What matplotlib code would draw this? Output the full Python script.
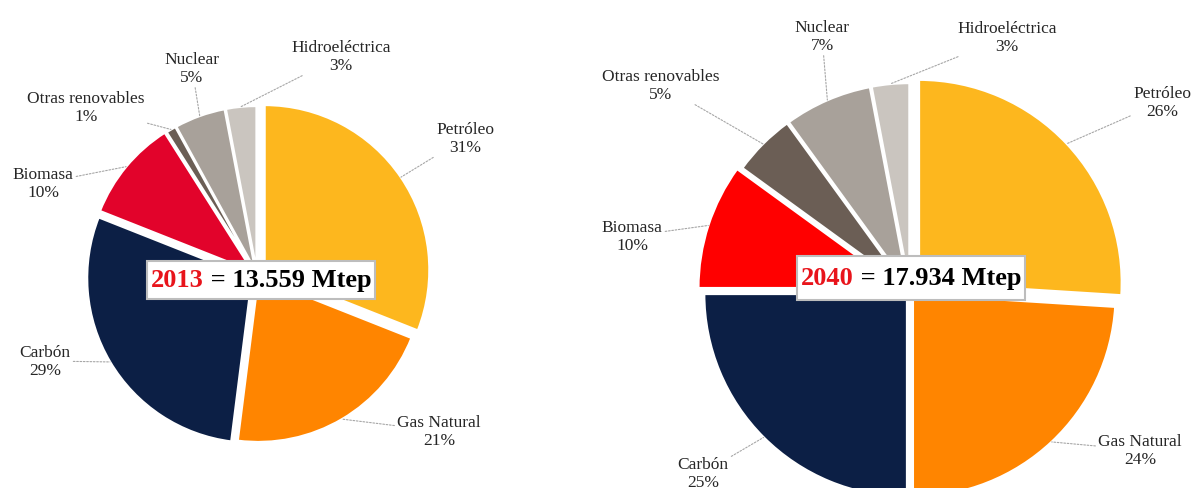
import matplotlib
matplotlib.use("Agg")
import matplotlib.pyplot as plt
import numpy as np
from matplotlib.patches import Rectangle

# ---------------- data ----------------
categories = ["Petróleo", "Gas Natural", "Carbón", "Biomasa",
              "Otras renovables", "Nuclear", "Hidroeléctrica"]
share_2013 = [31, 21, 29, 10, 1, 5, 3]
share_2040 = [26, 24, 25, 10, 5, 7, 3]
years = ["2013", "2040"]
totals = ["13.559", "17.934"]

colors_2013 = ["#FDB71E", "#FF8500", "#0C1F45", "#E2032B", "#6B5E55", "#A8A19A", "#CAC5BF"]
colors_2040 = ["#FDB71E", "#FF8500", "#0C1F45", "#FF0000", "#6B5E55", "#A8A19A", "#CAC5BF"]

# ---------------- layout (pixel coords, y downwards) ----------------
W, H = 1193, 489
layouts = [
    dict(center=(257, 276), radius=165,
         explode=[0.055, 0.015, 0.035, 0.03, 0.025, 0.025, 0.025],
         labels=[(465, 139), (439, 432), (45, 362), (43, 184), (86, 108), (192, 69), (341, 57)],
         box=(147, 262, 375, 300)),
    dict(center=(910, 292), radius=203,
         explode=[0.06, 0.02, 0.02, 0.045, 0.025, 0.025, 0.025],
         labels=[(1162, 103), (1140, 451), (703, 474), (632, 237), (661, 86), (822, 37), (1007, 38)],
         box=(797, 257, 1025, 301)),
]

plt.rcParams["font.family"] = ["Liberation Serif", "DejaVu Serif"]

fig = plt.figure(figsize=(W / 100, H / 100), dpi=100)
ax = fig.add_axes([0, 0, 1, 1])

series = [share_2013, share_2040]
palettes = [colors_2013, colors_2040]

for vals, cols, lay, yr, tot in zip(series, palettes, layouts, years, totals):
    cx, cy = lay["center"]
    R = lay["radius"]
    # matplotlib's explode offset is in data units, so scale by radius
    expl = [e * R for e in lay["explode"]]
    ax.pie(vals, colors=cols, explode=expl, startangle=90,
           counterclock=False, radius=R, center=(cx, H - cy),
           wedgeprops=dict(edgecolor="white", linewidth=1.8), frame=False)
    total = float(sum(vals))
    cum = 0.0
    for v, name, e, (lx, ly) in zip(vals, categories, lay["explode"], lay["labels"]):
        mid = np.deg2rad(90 - 360 * (cum + v / 2) / total)
        cum += v
        r = R * (1 + e)
        xy = (cx + r * np.cos(mid), H - cy + r * np.sin(mid))
        ax.annotate(f"{name}\n{v}%", xy=xy, xytext=(lx, H - ly),
                    ha="center", va="center", fontsize=12.5, color="#262626",
                    linespacing=1.15,
                    arrowprops=dict(arrowstyle="-", linestyle=(0, (1.5, 1.5)),
                                    color="#a6a6a6", lw=0.8, shrinkA=0, shrinkB=0))
    # title box
    x0, y0, x1, y1 = lay["box"]
    ax.add_patch(Rectangle((x0, H - y1), x1 - x0, y1 - y0, facecolor="white",
                           edgecolor="#bdbdbd", lw=1.5, zorder=5))
    ymid = H - (y0 + y1) / 2
    t1 = ax.text(x0 + 8, ymid, yr, color="#E8141B", fontsize=19, fontweight="bold",
                 ha="left", va="center", zorder=6)
    t2 = ax.annotate(f" = {tot} Mtep", xy=(1, 0), xycoords=t1, color="black",
                     fontsize=19, fontweight="bold", ha="left", va="bottom", zorder=6)
    fig.canvas.draw()
    rend = fig.canvas.get_renderer()
    b1 = t1.get_window_extent(rend)
    b2 = t2.get_window_extent(rend)
    width = b2.x1 - b1.x0
    t1.set_x((x0 + x1) / 2 - width / 2)

ax.set_xlim(0, W)
ax.set_ylim(0, H)
ax.set_aspect("auto")
ax.set_axis_off()

fig.savefig("out.png", dpi=100)
